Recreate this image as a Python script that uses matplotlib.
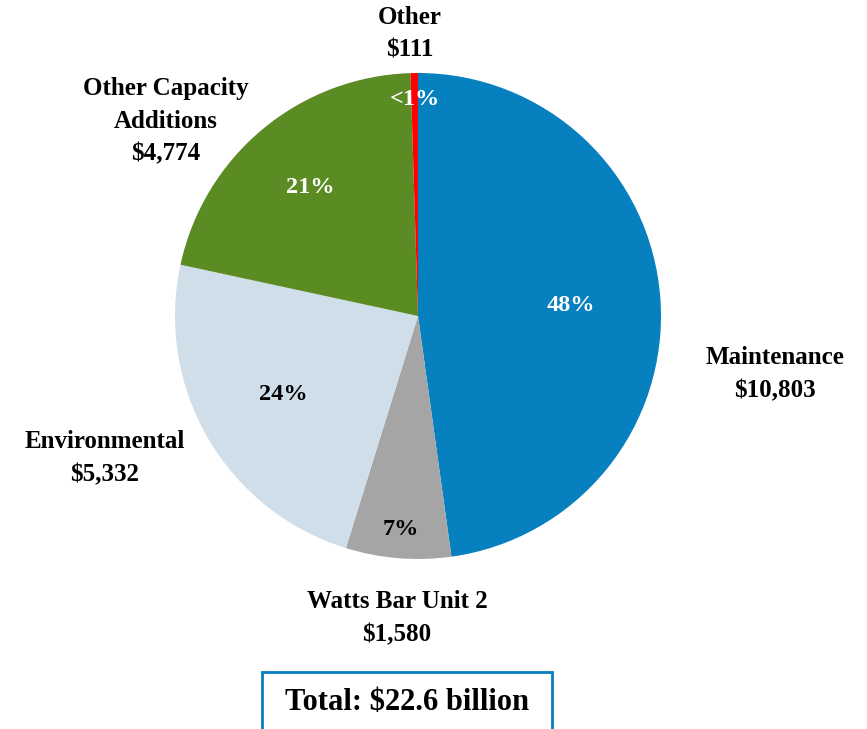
import numpy as np
import matplotlib.pyplot as plt
from matplotlib.patches import Rectangle

# Capital spend by category, $ millions
categories = ['Maintenance', 'Watts Bar Unit 2', 'Environmental',
              'Other Capacity\nAdditions', 'Other']
amounts = [10803, 1580, 5332, 4774, 111]
pct_labels = ['48%', '7%', '24%', '21%', '<1%']
colors = ['#0680BF', '#A5A5A5', '#D0DEE9', '#5B8B23', '#FF0000']
pct_colors = ['white', 'black', 'black', 'white', 'white']
total_label = 'Total: $22.6 billion'

plt.rcParams['font.family'] = ['Liberation Serif', 'DejaVu Serif']
plt.rcParams['font.weight'] = 'bold'

W, H = 867, 729
fig = plt.figure(figsize=(W / 100, H / 100), dpi=100)

# pie centred at (418, 316) px with radius 243 px
cx, cy, r = 418, 316, 243
ax = fig.add_axes([(cx - r) / W, (H - cy - r) / H, 2 * r / W, 2 * r / H])
wedges, _ = ax.pie(amounts, colors=colors, startangle=90, counterclock=False,
                   radius=1.0, wedgeprops=dict(linewidth=0))
ax.set_xlim(-1, 1)
ax.set_ylim(-1, 1)
ax.set_aspect('equal')
ax.axis('off')

# percentage text inside each wedge
pct_radius = [0.63, 0.88, 0.64, 0.69, 0.89]
for w, lab, col, rr in zip(wedges, pct_labels, pct_colors, pct_radius):
    mid = np.deg2rad((w.theta1 + w.theta2) / 2)
    ax.text(rr * np.cos(mid), rr * np.sin(mid), lab, color=col,
            ha='center', va='center', fontsize=17.5, fontweight='bold')

# outside category labels (pixel positions)
label_pos = [(775, 374), (397, 618), (105, 458), (166, 121), (410, 34)]
for name, amt, (px, py) in zip(categories, amounts, label_pos):
    fig.text(px / W, 1 - py / H, f'{name}\n${amt:,}', ha='center', va='center',
             fontsize=18, fontweight='bold', linespacing=1.55)

# total box, running off the bottom edge
fig.patches.append(Rectangle((262 / W, -0.02), 290 / W, (H - 672) / H + 0.02,
                             transform=fig.transFigure, fill=False,
                             edgecolor='#0680BF', linewidth=2, clip_on=False))
fig.text(407 / W, 1 - 702 / H, total_label, ha='center', va='center',
         fontsize=22, fontweight='bold')

fig.savefig('out.png', dpi=100)
